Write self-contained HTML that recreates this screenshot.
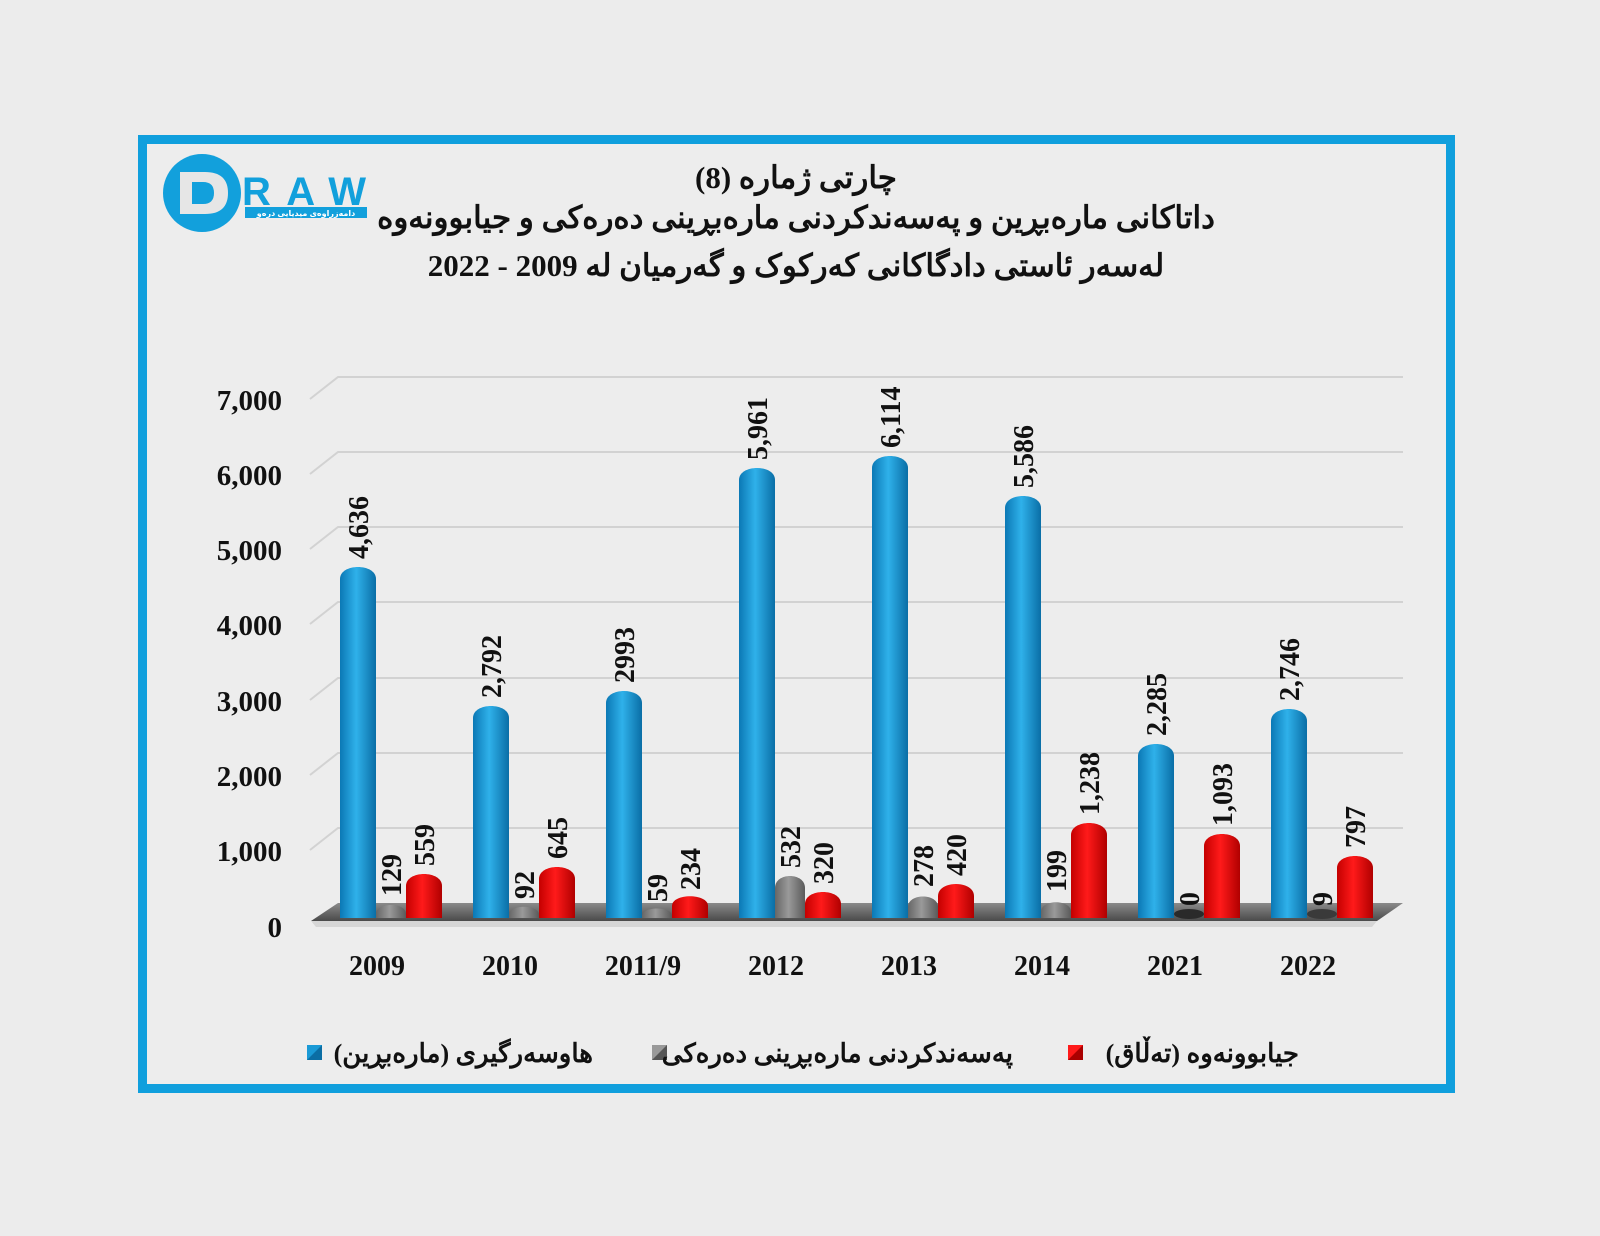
<!DOCTYPE html>
<html><head><meta charset="utf-8"><style>
html,body{margin:0;padding:0;background:#ececec;}
svg{display:block;}
text{font-family:"Liberation Serif","DejaVu Serif",serif;font-weight:bold;fill:#111;}
.ar{font-family:"Liberation Sans","DejaVu Sans",sans-serif;}
</style></head><body>
<svg width="1600" height="1236" viewBox="0 0 1600 1236" xmlns="http://www.w3.org/2000/svg">
<defs>
<linearGradient id="gb" x1="0" x2="1" y1="0" y2="0"><stop offset="0" stop-color="#0b78b5"/><stop offset="0.45" stop-color="#2fb1ea"/><stop offset="1" stop-color="#0a6ea6"/></linearGradient>
<linearGradient id="gr" x1="0" x2="1" y1="0" y2="0"><stop offset="0" stop-color="#c40000"/><stop offset="0.45" stop-color="#ff1a1a"/><stop offset="1" stop-color="#b00000"/></linearGradient>
<linearGradient id="gg" x1="0" x2="1" y1="0" y2="0"><stop offset="0" stop-color="#666"/><stop offset="0.45" stop-color="#9a9a9a"/><stop offset="1" stop-color="#5a5a5a"/></linearGradient>
<linearGradient id="fl" x1="0" x2="0" y1="0" y2="1"><stop offset="0" stop-color="#8a8a8a"/><stop offset="1" stop-color="#4a4a4a"/></linearGradient>
</defs>
<rect x="0" y="0" width="1600" height="1236" fill="#ececec"/>
<rect x="142.5" y="139.5" width="1308" height="949" fill="#ededed" stroke="#109fdd" stroke-width="9"/>

<!-- logo -->
<circle cx="202" cy="193" r="39" fill="#12a0dc"/>
<path d="M180 172 H205 Q228 172 228 193 Q228 214 205 214 H180 Z" fill="#e6e6e6"/>
<path d="M192 182 H203 Q214 182 214 193 Q214 204 203 204 H192 Z" fill="#12a0dc"/>
<text x="242" y="205" class="ar" font-size="40" textLength="124" style="fill:#12a0dc">RAW</text>
<rect x="245" y="207" width="122" height="11" fill="#12a0dc"/>
<text x="306" y="216" class="ar" font-size="8" text-anchor="middle" style="fill:#fff">دامەزراوەی میدیایی درەو</text>

<!-- title -->
<text x="796" y="188" font-size="31" text-anchor="middle" direction="rtl">چارتی ژمارە (8)</text>
<text x="796" y="228" font-size="31" text-anchor="middle" direction="rtl">داتاکانی مارەبڕین و پەسەندکردنی مارەبڕینی دەرەکی و جیابوونەوە</text>
<text x="796" y="276" font-size="31" text-anchor="middle" direction="rtl">لەسەر ئاستی دادگاکانی کەرکوک و گەرمیان لە 2009 - 2022</text>

<!-- gridlines -->
<g stroke="#d2d2d2" stroke-width="2" fill="none">
<path d="M310 399 L338 377 H1403"/>
<path d="M310 474 L338 452 H1403"/>
<path d="M310 549 L338 527 H1403"/>
<path d="M310 624 L338 602 H1403"/>
<path d="M310 700 L338 678 H1403"/>
<path d="M310 775 L338 753 H1403"/>
<path d="M310 850 L338 828 H1403"/>
</g>
<g font-size="29" text-anchor="end">
<text x="282" y="410">7,000</text>
<text x="282" y="485">6,000</text>
<text x="282" y="560">5,000</text>
<text x="282" y="635">4,000</text>
<text x="282" y="711">3,000</text>
<text x="282" y="786">2,000</text>
<text x="282" y="861">1,000</text>
<text x="282" y="937">0</text>
</g>

<!-- floor -->
<polygon points="311,921 1377,921 1403,903 338,903" fill="url(#fl)"/>
<polygon points="311,921 1377,921 1372,927 316,927" fill="#d6d6d6"/>

<!-- bars -->
<g>
<path d="M340 918 V579 C340 563 376 563 376 579 V918 Z" fill="url(#gb)"/>
<path d="M376 918 V914 C376 902 406 902 406 914 V918 Z" fill="url(#gg)"/>
<path d="M406 918 V886 C406 870 442 870 442 886 V918 Z" fill="url(#gr)"/>
<path d="M473 918 V718 C473 702 509 702 509 718 V918 Z" fill="url(#gb)"/>
<path d="M509 918 V915 C509 904 539 904 539 915 V918 Z" fill="url(#gg)"/>
<path d="M539 918 V879 C539 863 575 863 575 879 V918 Z" fill="url(#gr)"/>
<path d="M606 918 V703 C606 687 642 687 642 703 V918 Z" fill="url(#gb)"/>
<path d="M642 918 V916 C642 906 672 906 672 916 V918 Z" fill="url(#gg)"/>
<path d="M672 918 V906 C672 893 708 893 708 906 V918 Z" fill="url(#gr)"/>
<path d="M739 918 V480 C739 464 775 464 775 480 V918 Z" fill="url(#gb)"/>
<path d="M775 918 V888 C775 872 805 872 805 888 V918 Z" fill="url(#gg)"/>
<path d="M805 918 V904 C805 888 841 888 841 904 V918 Z" fill="url(#gr)"/>
<path d="M872 918 V468 C872 452 908 452 908 468 V918 Z" fill="url(#gb)"/>
<path d="M908 918 V907 C908 893 938 893 938 907 V918 Z" fill="url(#gg)"/>
<path d="M938 918 V896 C938 880 974 880 974 896 V918 Z" fill="url(#gr)"/>
<path d="M1005 918 V508 C1005 492 1041 492 1041 508 V918 Z" fill="url(#gb)"/>
<path d="M1041 918 V912 C1041 899 1071 899 1071 912 V918 Z" fill="url(#gg)"/>
<path d="M1071 918 V835 C1071 819 1107 819 1107 835 V918 Z" fill="url(#gr)"/>
<path d="M1138 918 V756 C1138 740 1174 740 1174 756 V918 Z" fill="url(#gb)"/>
<ellipse cx="1189" cy="914" rx="15" ry="5" fill="#2a2a2a"/>
<path d="M1204 918 V846 C1204 830 1240 830 1240 846 V918 Z" fill="url(#gr)"/>
<path d="M1271 918 V721 C1271 705 1307 705 1307 721 V918 Z" fill="url(#gb)"/>
<ellipse cx="1322" cy="914" rx="15" ry="5" fill="#3a3a3a"/>
<path d="M1337 918 V868 C1337 852 1373 852 1373 868 V918 Z" fill="url(#gr)"/>
</g>

<!-- value labels -->
<g font-size="28">
<text transform="translate(368,559) rotate(-90)">4,636</text>
<text transform="translate(401,896) rotate(-90)">129</text>
<text transform="translate(434,866) rotate(-90)">559</text>
<text transform="translate(501,698) rotate(-90)">2,792</text>
<text transform="translate(534,899) rotate(-90)">92</text>
<text transform="translate(567,859) rotate(-90)">645</text>
<text transform="translate(634,683) rotate(-90)">2993</text>
<text transform="translate(667,902) rotate(-90)">59</text>
<text transform="translate(700,890) rotate(-90)">234</text>
<text transform="translate(767,460) rotate(-90)">5,961</text>
<text transform="translate(800,868) rotate(-90)">532</text>
<text transform="translate(833,884) rotate(-90)">320</text>
<text transform="translate(900,448) rotate(-90)">6,114</text>
<text transform="translate(933,887) rotate(-90)">278</text>
<text transform="translate(966,876) rotate(-90)">420</text>
<text transform="translate(1033,488) rotate(-90)">5,586</text>
<text transform="translate(1066,892) rotate(-90)">199</text>
<text transform="translate(1099,815) rotate(-90)">1,238</text>
<text transform="translate(1166,736) rotate(-90)">2,285</text>
<text transform="translate(1199,906) rotate(-90)">0</text>
<text transform="translate(1232,826) rotate(-90)">1,093</text>
<text transform="translate(1299,701) rotate(-90)">2,746</text>
<text transform="translate(1332,906) rotate(-90)">9</text>
<text transform="translate(1365,848) rotate(-90)">797</text>
</g>

<!-- x labels -->
<g font-size="28" text-anchor="middle">
<text x="377" y="975">2009</text>
<text x="510" y="975">2010</text>
<text x="643" y="975">2011/9</text>
<text x="776" y="975">2012</text>
<text x="909" y="975">2013</text>
<text x="1042" y="975">2014</text>
<text x="1175" y="975">2021</text>
<text x="1308" y="975">2022</text>
</g>

<!-- legend -->
<rect x="307" y="1045" width="15" height="15" fill="#1a9ad6"/><polygon points="307,1060 322,1045 322,1060" fill="#0b6ea4"/>
<text x="593" y="1062" font-size="26" text-anchor="start" direction="rtl">هاوسەرگیری (مارەبڕین)</text>
<rect x="652" y="1045" width="15" height="15" fill="#999"/><polygon points="652,1060 667,1045 667,1060" fill="#555"/>
<text x="1013" y="1062" font-size="26" text-anchor="start" direction="rtl">پەسەندکردنی مارەبڕینی دەرەکی</text>
<rect x="1068" y="1045" width="15" height="15" fill="#ff1a1a"/><polygon points="1068,1060 1083,1045 1083,1060" fill="#a00"/>
<text x="1299" y="1062" font-size="26" text-anchor="start" direction="rtl">جیابوونەوە (تەڵاق)</text>
</svg>
</body></html>
